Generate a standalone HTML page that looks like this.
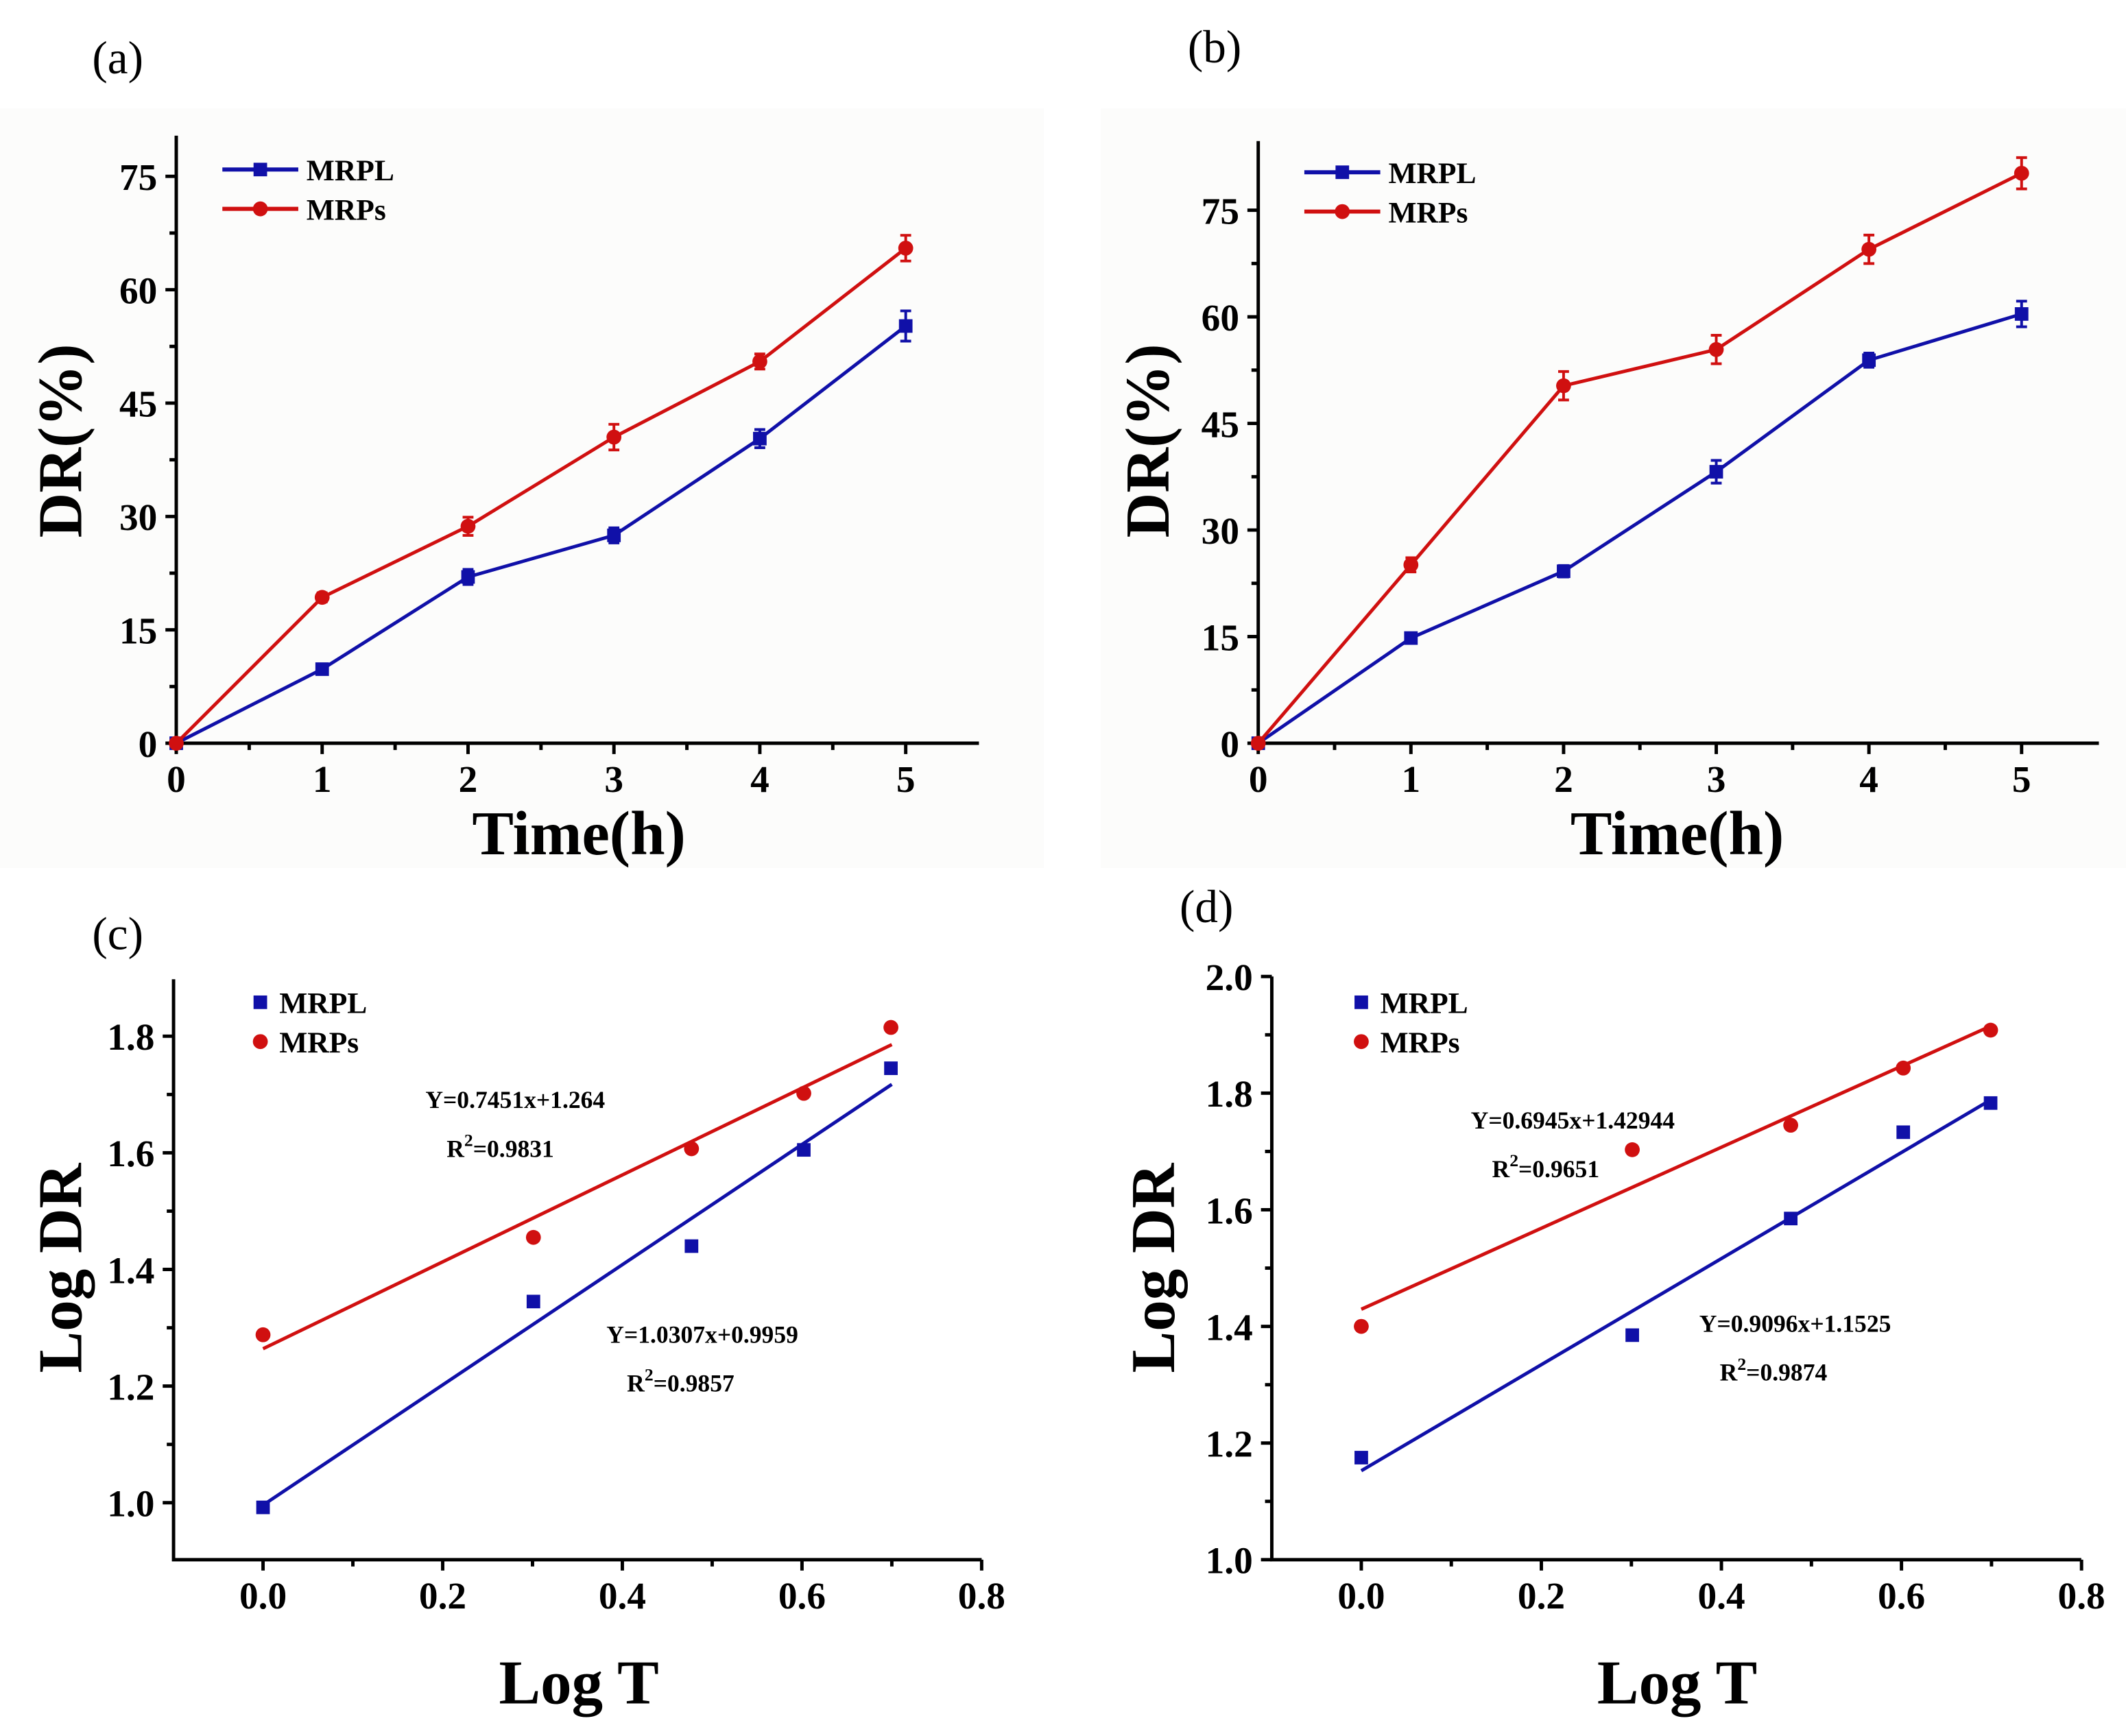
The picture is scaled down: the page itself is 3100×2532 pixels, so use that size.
<!DOCTYPE html>
<html><head><meta charset="utf-8"><style>
html,body{margin:0;padding:0;background:#fff;}
svg{display:block;}
text{font-family:"Liberation Serif",serif;}
</style></head><body>
<svg id="fig" width="3100" height="2532" viewBox="0 0 1568 1280" preserveAspectRatio="none" xmlns="http://www.w3.org/2000/svg">
<rect width="1568" height="1280" fill="#fff"/>
<rect x="0" y="80" width="770" height="560" fill="#fcfcfb"/>
<rect x="812" y="80" width="756" height="560" fill="#fcfcfb"/>
</svg>
<script>
const timeX=[0,1,2,3,4,5];
const aMRPL=[0,9.8,22,27.5,40.3,55.2];
const aMRPs=[0,19.3,28.7,40.5,50.5,65.5];
const aErrL=[0,0.6,1,1,1.2,2];
const aErrS=[0,0.6,1.2,1.7,1,1.7];
const bMRPL=[0,14.8,24.2,38.2,53.9,60.4];
const bMRPs=[0,25.1,50.3,55.4,69.5,80.2];
const bErrL=[0,0.5,0.8,1.6,1,1.8];
const bErrS=[0,1,2,2,2,2.2];
const logT=[0,0.301,0.477,0.602,0.699];
const cMRPL=[0.992,1.345,1.44,1.605,1.745];
const cMRPs=[1.288,1.455,1.607,1.702,1.815];
const cFitL=[1.0307,0.9959];const cFitS=[0.7451,1.264];
const dMRPL=[1.175,1.385,1.585,1.733,1.783];
const dMRPs=[1.40,1.703,1.745,1.843,1.908];
const dFitL=[0.9096,1.1525];const dFitS=[0.6945,1.42944];
const ticksA=[0,15,30,45,60,75];
const ticksX5=[0,1,2,3,4,5];
const ticksLogT=[0,0.2,0.4,0.6,0.8];
const ticksC=[1.0,1.2,1.4,1.6,1.8];
const ticksD=[1.0,1.2,1.4,1.6,1.8,2.0];

const svg=document.getElementById('fig');const NS='http://www.w3.org/2000/svg';
function el(tag,attrs,parent){const e=document.createElementNS(NS,tag);for(const k in attrs)e.setAttribute(k,attrs[k]);(parent||svg).appendChild(e);return e;}
function txt(s,x,y,size,attrs,parent){const t=el('text',Object.assign({x:x,y:y,'font-size':size},attrs||{}),parent);t.textContent=s;return t;}
const BLUE='#1010a8',RED='#d01010';

function panel(o){
  const g=el('g',{});
  
  
  const X=v=>o.x0+(v-o.xv0)*o.xs, Y=v=>o.y0-(v-o.yv0)*o.ys;
  const ax=el('path',{d:`M${o.axL},${o.axT} V${o.axB} H${o.axR}`,stroke:'#000','stroke-width':2.5,fill:'none'},g);
  
  o.yt.forEach((v,i)=>{el('line',{x1:o.axL-8,x2:o.axL,y1:Y(v),y2:Y(v),stroke:'#000','stroke-width':2.5},g);
    const t=txt(o.yfmt(v),o.axL-14,Y(v)+10,28,{'text-anchor':'end','font-weight':'bold'},g);
    
    if(i<o.yt.length-1){const m=(v+o.yt[i+1])/2;el('line',{x1:o.axL-5,x2:o.axL,y1:Y(m),y2:Y(m),stroke:'#000','stroke-width':2.5},g);}
  });
  o.xt.forEach((v,i)=>{el('line',{x1:X(v),x2:X(v),y1:o.axB,y2:o.axB+8,stroke:'#000','stroke-width':2.5},g);
    const t=txt(o.xfmt(v),X(v),o.axB+36,28,{'text-anchor':'middle','font-weight':'bold'},g);
    
    if(i<o.xt.length-1){const m=(v+o.xt[i+1])/2;el('line',{x1:X(m),x2:X(m),y1:o.axB,y2:o.axB+5,stroke:'#000','stroke-width':2.5},g);}
  });
  const xt=txt(o.xtitle,o.xtx,o.xty,46,{'text-anchor':'middle','font-weight':'bold'},g);
  
  const yt=txt(o.ytitle,0,0,46,{'text-anchor':'middle','font-weight':'bold',transform:`translate(${o.ytx},${o.yty}) rotate(-90)`},g);
  
  const pl=txt(o.label,o.lx,o.ly,34,{},g);
  
  o.series.forEach(s=>{
    if(s.line){const p=el('polyline',{points:s.xs.map((x,i)=>X(x)+','+Y(s.ys[i])).join(' '),fill:'none',stroke:s.c,'stroke-width':2.5},g);
      }
    if(s.fit){const a=s.fit[0],b=s.fit[1];const f=el('line',{x1:X(0),y1:Y(b),x2:X(0.7),y2:Y(a*0.7+b),stroke:s.c,'stroke-width':2.5},g);
      }
    s.xs.forEach((x,i)=>{
      if(s.err&&s.err[i]>0){const e=el('path',{d:`M${X(x)},${Y(s.ys[i]+s.err[i])} V${Y(s.ys[i]-s.err[i])} M${X(x)-4},${Y(s.ys[i]+s.err[i])} h8 M${X(x)-4},${Y(s.ys[i]-s.err[i])} h8`,stroke:s.c,'stroke-width':2,fill:'none'},g);
        }
      let m;
      if(s.shape==='sq') m=el('rect',{x:X(x)-5,y:Y(s.ys[i])-5,width:10,height:10,fill:s.c},g);
      else m=el('circle',{cx:X(x),cy:Y(s.ys[i]),r:5.5,fill:s.c},g);
      
    });
  });
  o.series.forEach((s,i)=>{
    const ly=o.legY+i*29;
    const lg=el('g',{},g);
    if(s.line) el('line',{x1:o.legX,x2:o.legX+56,y1:ly,y2:ly,stroke:s.c,'stroke-width':3},lg);
    if(s.shape==='sq') el('rect',{x:o.legX+23,y:ly-5,width:10,height:10,fill:s.c},lg);
    else el('circle',{cx:o.legX+28,cy:ly,r:5.5,fill:s.c},lg);
    txt(s.n==='mrpl'?'MRPL':'MRPs',o.legX+(s.line?62:42),ly+8,22,{'font-weight':'bold'},lg);
  });
  (o.ann||[]).forEach(a=>{const t=el('text',{x:a.x,y:a.y,'font-size':18,'font-weight':'bold','text-anchor':'middle'},g);
    
    t.textContent=a.eq;
    const t2=el('text',{x:a.x+a.dx,y:a.y+36,'font-size':18,'font-weight':'bold','text-anchor':'middle'},g);
    
    t2.appendChild(document.createTextNode('R'));const sp=el('tspan',{dy:-8,'font-size':13},t2);sp.textContent='2';
    const sp2=el('tspan',{dy:8},t2);sp2.textContent='='+a.r2;});
}
const f0=v=>String(v), f1=v=>v.toFixed(1);
panel({name:'panel-a',label:'(a)',lx:68,ly:54,x0:130,xv0:0,xs:107.6,y0:548,yv0:0,ys:5.573,axL:130,axT:100,axB:548,axR:722,
  yt:ticksA,xt:ticksX5,yfmt:f0,xfmt:f0,xtitle:'Time(h)',xtx:427,xty:630,ytitle:'DR(%)',ytx:60,yty:325,legX:164,legY:125,
  series:[{n:'mrpl',xs:timeX,ys:aMRPL,err:aErrL,c:BLUE,shape:'sq',line:1},{n:'mrps',xs:timeX,ys:aMRPs,err:aErrS,c:RED,shape:'ci',line:1}]});
panel({name:'panel-b',label:'(b)',lx:876,ly:46,x0:928,xv0:0,xs:112.6,y0:548,yv0:0,ys:5.24,axL:928,axT:104,axB:548,axR:1548,
  yt:ticksA,xt:ticksX5,yfmt:f0,xfmt:f0,xtitle:'Time(h)',xtx:1237,xty:630,ytitle:'DR(%)',ytx:862,yty:325,legX:962,legY:127,
  series:[{n:'mrpl',xs:timeX,ys:bMRPL,err:bErrL,c:BLUE,shape:'sq',line:1},{n:'mrps',xs:timeX,ys:bMRPs,err:bErrS,c:RED,shape:'ci',line:1}]});
panel({name:'panel-c',label:'(c)',lx:68,ly:700,x0:194,xv0:0,xs:662.5,y0:1108,yv0:1.0,ys:430,axL:128,axT:722,axB:1150,axR:724,
  yt:ticksC,xt:ticksLogT,yfmt:f1,xfmt:f1,xtitle:'Log T',xtx:427,xty:1256,ytitle:'Log DR',ytx:60,yty:935,legX:164,legY:739,
  ann:[{x:380,y:817,eq:'Y=0.7451x+1.264',r2:'0.9831',dx:-11},{x:518,y:990,eq:'Y=1.0307x+0.9959',r2:'0.9857',dx:-16}],
  series:[{n:'mrpl',xs:logT,ys:cMRPL,c:BLUE,shape:'sq',fit:cFitL},{n:'mrps',xs:logT,ys:cMRPs,c:RED,shape:'ci',fit:cFitS}]});
panel({name:'panel-d',label:'(d)',lx:870,ly:680,x0:1004,xv0:0,xs:664,y0:1150,yv0:1.0,ys:430,axL:938,axT:720,axB:1150,axR:1535,
  yt:ticksD,xt:ticksLogT,yfmt:f1,xfmt:f1,xtitle:'Log T',xtx:1237,xty:1256,ytitle:'Log DR',ytx:866,yty:935,legX:976,legY:739,
  ann:[{x:1160,y:832,eq:'Y=0.6945x+1.42944',r2:'0.9651',dx:-20},{x:1324,y:982,eq:'Y=0.9096x+1.1525',r2:'0.9874',dx:-16}],
  series:[{n:'mrpl',xs:logT,ys:dMRPL,c:BLUE,shape:'sq',fit:dFitL},{n:'mrps',xs:logT,ys:dMRPs,c:RED,shape:'ci',fit:dFitS}]});
</script>
</body></html>
